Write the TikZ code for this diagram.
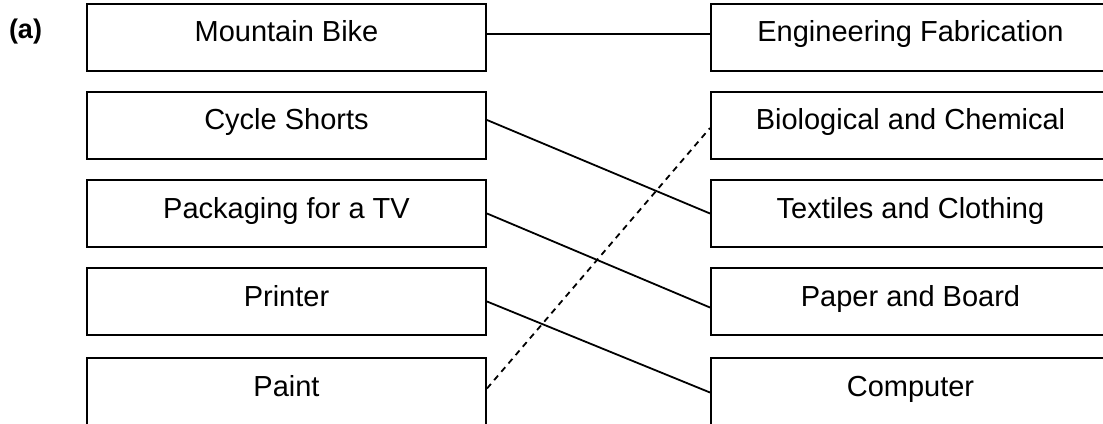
\documentclass[tikz,border=0pt]{standalone}
\usepackage{fontspec}
\setmainfont{Liberation Sans}
\begin{document}
\begin{tikzpicture}[x=1pt,y=-1pt,
  itembox/.style={draw=black, line width=2pt, minimum width=399pt, minimum height=67pt,
    inner sep=0pt, font=\fontsize{29}{34}\selectfont, text height=21pt, text depth=12pt},
  link/.style={draw=black, line width=1.8pt},
  dlink/.style={link, dash pattern=on 6pt off 5pt}]
\useasboundingbox (0,0) rectangle (1103,423);
\node[font=\fontsize{27}{32}\selectfont\bfseries, anchor=base] (lab) at (25.5,38) {(a)};
% left boxes
\node[itembox] (mb) at (286.5,37) {Mountain Bike};
\node[itembox] (cs) at (286.5,125) {Cycle Shorts};
\node[itembox] (pk) at (286.5,213.5) {Packaging for a TV};
\node[itembox] (pr) at (286.5,301.5) {Printer};
\node[itembox] (pa) at (286.5,391.5) {Paint};
% right boxes
\node[itembox] (ef) at (910.5,37) {Engineering Fabrication};
\node[itembox] (bc) at (910.5,125) {Biological and Chemical};
\node[itembox] (tc) at (910.5,213.5) {Textiles and Clothing};
\node[itembox] (pb) at (910.5,301.5) {Paper and Board};
\node[itembox] (co) at (910.5,391.5) {Computer};
% connectors
\draw[link] ([yshift=3pt]mb.east) -- ([yshift=3pt]ef.west);
\draw[link] ([yshift=5pt]cs.east) -- (tc.west);
\draw[link] (pk.east) -- ([yshift=-6pt]pb.west);
\draw[link] (pr.east) -- ([yshift=-1pt]co.west);
\draw[dlink] ([yshift=3pt]pa.east) -- ([yshift=-3pt]bc.west);
\end{tikzpicture}
\end{document}
